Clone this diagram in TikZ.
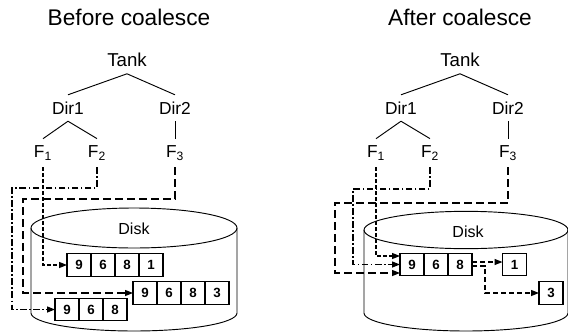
\documentclass[tikz,border=0pt]{standalone}
\usepackage{fontspec}
\setmainfont{Liberation Sans}
\usetikzlibrary{arrows.meta, positioning, calc}

\begin{document}
\begin{tikzpicture}[x=0.75pt,y=-0.75pt,
    title/.style={font=\fontsize{17}{20}\selectfont},
    treenode/.style={inner sep=5pt,font=\fontsize{13}{15}\selectfont},
    tree/.style={line width=0.7pt},
    disk/.style={line width=0.7pt},
    cell/.style={draw,fill=white,line width=0.8pt,minimum width=18pt,minimum height=17pt,
        inner sep=0pt,outer sep=0pt,font=\bfseries\fontsize{10}{12}\selectfont},
    link/.style={line width=1pt,-{Triangle[length=6pt,width=4.5pt]}},
    fone/.style={link,dash pattern=on 3pt off 1.5pt},
    ftwo/.style={link,dash pattern=on 5pt off 1.8pt on 1.2pt off 1.8pt},
    fthree/.style={link,dash pattern=on 6pt off 3pt},
    boxlink/.style={link,dash pattern=on 4pt off 2pt}]
    \useasboundingbox (0,0) rectangle (568,333);

    % Titles
    \node[title] (ltitle) at (129,17) {Before coalesce};
    \node[title] (rtitle) at (460,17) {After coalesce};

    % Directory trees (same in both panels)
    \foreach \p/\dx in {l/0,r/333} {
        \node[treenode,font=\fontsize{14}{16}\selectfont] (tank\p) at (127+\dx,60) {Tank};
        \node[treenode] (dir1\p) at (68+\dx,108) {Dir1};
        \node[treenode] (dir2\p) at (175+\dx,108) {Dir2};
        \node[treenode] (f1\p) at (43+\dx,153) {F\textsubscript{1}};
        \node[treenode] (f2\p) at (97+\dx,153) {F\textsubscript{2}};
        \node[treenode] (f3\p) at (175+\dx,153) {F\textsubscript{3}};
        \draw[tree] (tank\p.south) -- (dir1\p.north);
        \draw[tree] (tank\p.south) -- (dir2\p.north);
        \draw[tree] (dir1\p.south) -- (f1\p.north);
        \draw[tree] (dir1\p.south) -- (f2\p.north);
        \draw[tree] (dir2\p.south) -- (f3\p.north);
    }

    % Disks
    \draw[disk] (134,228) ellipse[x radius=77.25pt, y radius=15pt];
    \draw[disk] (31,228) -- (31,313) arc[start angle=180, end angle=360, x radius=77.25pt, y radius=13.5pt] -- (237,228);
    \node[font=\fontsize{12}{14}\selectfont] (ldisk) at (134,229) {Disk};

    \draw[disk] (466,230) ellipse[x radius=76.5pt, y radius=14pt];
    \draw[disk] (364,230) -- (364,313) arc[start angle=180, end angle=360, x radius=76.5pt, y radius=13.5pt] -- (568,230);
    \node[font=\fontsize{12}{14}\selectfont] (rdisk) at (468,232) {Disk};

    % Blocks before coalesce
    \foreach \v [count=\i] in {9,6,8,1}
        \node[cell] (la\i) at ({55+24*\i},265) {\v};
    \foreach \v [count=\i] in {9,6,8,3}
        \node[cell] (lb\i) at ({121+24*\i},293) {\v};
    \foreach \v [count=\i] in {9,6,8}
        \node[cell] (lc\i) at ({43+24*\i},309.5) {\v};

    % Blocks after coalesce
    \foreach \v [count=\i] in {9,6,8}
        \node[cell] (rc\i) at ({388+24*\i},264.5) {\v};
    \node[cell] (rone) at (514.5,264.5) {1};
    \node[cell] (rthree) at (551,293) {3};

    % File pointers, before
    \coordinate (lbendtwo) at (12,188);
    \coordinate (lbendthree) at (23,199);
    \draw[fone] (f1l.south) |- (la1.west);
    \draw[ftwo] (f2l.south) |- (lbendtwo) |- (lc1.west);
    \draw[fthree] (f3l.south) |- (lbendthree) |- (lb1.west);

    % File pointers, after
    \coordinate (rbendtwo) at (353,189);
    \coordinate (rbendthree) at (335,203);
    \draw[fone] (f1r.south) |- ($(rc1.west)+(0,-8.5)$);
    \draw[ftwo] (f2r.south) |- (rbendtwo) |- (rc1.west);
    \draw[fthree] (f3r.south) |- (rbendthree) |- ($(rc1.west)+(0,8.5)$);

    % Tail blocks
    \draw[boxlink] ($(rc3.east)+(0,-2.5)$) -- ($(rone.west)+(0,-2.5)$);
    \draw[boxlink] ($(rc3.east)+(0,1.5)$) -- ++(13,0) |- (rthree.west);
\end{tikzpicture}
\end{document}
